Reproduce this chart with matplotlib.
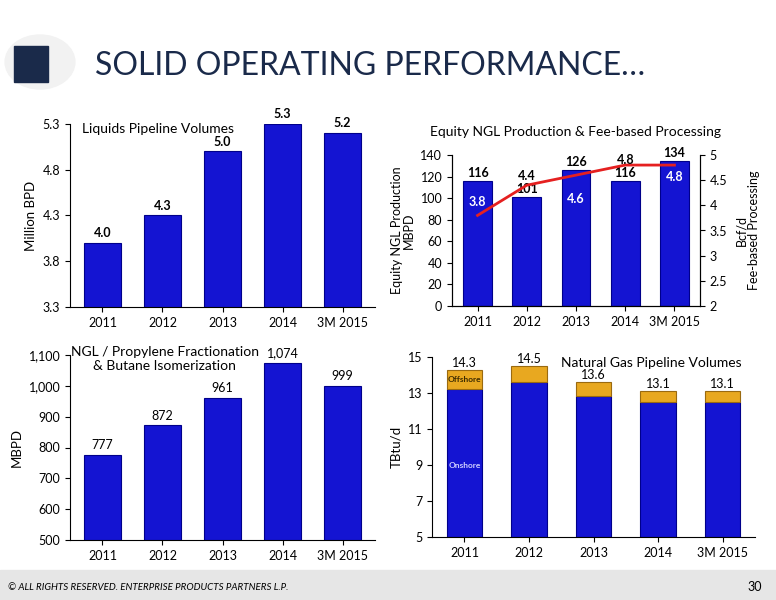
import matplotlib
matplotlib.use("Agg")
import matplotlib.pyplot as plt
from matplotlib.patches import Rectangle, Circle

plt.rcParams['font.family'] = ['Lato', 'DejaVu Sans']

years = ["2011", "2012", "2013", "2014", "3M 2015"]
liquids = [4.0, 4.3, 5.0, 5.3, 5.2]
ngl_prod = [116, 101, 126, 116, 134]
fee_proc = [3.8, 4.4, 4.6, 4.8, 4.8]
frac = [777, 872, 961, 1074, 999]
gas_total = [14.3, 14.5, 13.6, 13.1, 13.1]
gas_onshore = [13.2, 13.6, 12.85, 12.5, 12.5]
gas_offshore = [t - o for t, o in zip(gas_total, gas_onshore)]

BLUE = '#1414d2'
EDGE = '#00008a'
GOLD = '#e8a820'

fig = plt.figure(figsize=(7.76, 6), dpi=100)
W, H = 776, 600
def ax_at(x0, y0, x1, y1):
    return fig.add_axes([x0 / W, 1 - y1 / H, (x1 - x0) / W, (y1 - y0) / H])

# header
fig.patches.append(Circle((40 / W, 1 - 62 / H), 0.045, transform=fig.transFigure, color='#f2f2f2', zorder=0))
fig.patches.append(Rectangle((14 / W, 1 - 82 / H), 34 / W, 36 / H, transform=fig.transFigure, color='#1a2a4a'))
fig.text(95 / W, 1 - 66 / H, "SOLID OPERATING PERFORMANCE…", fontsize=23, color='#1a2a4a', va='center')
fig.patches.append(Rectangle((0, 0), 1, 30 / H, transform=fig.transFigure, color='#e6e6e6'))
fig.text(8 / W, 13 / H, "© ALL RIGHTS RESERVED. ENTERPRISE PRODUCTS PARTNERS L.P.", fontsize=7, style='italic', va='center')
fig.text(762 / W, 13 / H, "30", fontsize=9, ha='right', va='center')

FS = 9

def style(ax):
    ax.spines['top'].set_visible(False)
    ax.spines['right'].set_visible(False)
    ax.tick_params(labelsize=FS)

x = range(len(years))

# top-left
ax = ax_at(70, 124, 375, 307)
ax.bar(x, liquids, width=0.62, color=BLUE, edgecolor=EDGE, linewidth=0.8)
ax.set_ylim(3.3, 5.3)
ax.set_yticks([3.3, 3.8, 4.3, 4.8, 5.3])
ax.set_xticks(list(x), years)
ax.set_ylabel("Million BPD", fontsize=9.5)
for i, v in enumerate(liquids):
    ax.text(i, v + 0.04, f"{v:.1f}", ha='center', va='bottom', fontsize=FS, fontweight='bold', clip_on=False)
ax.text(0.04, 0.97, "Liquids Pipeline Volumes", transform=ax.transAxes, fontsize=10, va='center')
style(ax)

# top-right
ax = ax_at(452, 155, 700, 306)
ax.bar(x, ngl_prod, width=0.58, color=BLUE, edgecolor=EDGE, linewidth=0.8)
ax.set_ylim(0, 140)
ax.set_yticks(range(0, 141, 20))
ax.set_xticks(list(x), years)
ax.set_ylabel("Equity NGL Production\nMBPD", fontsize=9, linespacing=1.0)
ax.spines['top'].set_visible(False)
ax.tick_params(labelsize=FS)
for i, v in enumerate(ngl_prod):
    ax.text(i, v + 2, str(v), ha='center', va='bottom', fontsize=FS, fontweight='bold', zorder=5)
ax.set_title("Equity NGL Production & Fee-based Processing", fontsize=10, pad=14)
ax2 = ax.twinx()
ax2.plot(list(x), fee_proc, color='#e52020', linewidth=2)
ax2.set_ylim(2, 5)
ax2.set_yticks([2, 2.5, 3, 3.5, 4, 4.5, 5])
ax2.set_yticklabels(["2", "2.5", "3", "3.5", "4", "4.5", "5"])
ax2.tick_params(labelsize=FS)
ax2.spines['top'].set_visible(False)
ax2.set_ylabel("Bcf/d\nFee-based Processing", fontsize=9, linespacing=1.0, labelpad=6)
lab_pos = [4.07, 4.59, 4.13, 4.9, 4.57]
lab_col = ['white', 'black', 'white', 'black', 'white']
for i, v in enumerate(fee_proc):
    ax2.text(i, lab_pos[i], f"{v:.1f}", ha='center', va='center', fontsize=FS, fontweight='bold', color=lab_col[i])

# bottom-left
ax = ax_at(70, 355, 375, 540)
ax.bar(x, frac, width=0.62, color=BLUE, edgecolor=EDGE, linewidth=0.8)
ax.set_ylim(500, 1100)
ax.set_yticks(range(500, 1101, 100))
ax.set_yticklabels([f"{v:,}" for v in range(500, 1101, 100)])
ax.set_xticks(list(x), years)
ax.set_ylabel("MBPD", fontsize=9.5)
for i, v in enumerate(frac):
    ax.text(i, v + 12, f"{v:,}", ha='center', va='bottom', fontsize=FS, clip_on=False)
ax.text(0.31, 1.05, "NGL / Propylene Fractionation\n& Butane Isomerization", transform=ax.transAxes,
        fontsize=10, va='top', ha='center')
style(ax)

# bottom-right
ax = ax_at(432, 357, 755, 537)
ax.bar(x, [o - 5 for o in gas_onshore], bottom=5, width=0.55, color=BLUE, edgecolor=EDGE, linewidth=0.8)
ax.bar(x, gas_offshore, bottom=gas_onshore, width=0.55, color=GOLD, edgecolor='#9a6a10', linewidth=0.8)
ax.set_ylim(5, 15)
ax.set_yticks([5, 7, 9, 11, 13, 15])
ax.set_xticks(list(x), years)
ax.set_ylabel("TBtu/d", fontsize=9.5)
for i, v in enumerate(gas_total):
    ax.text(i, v + 0.05, f"{v:.1f}", ha='center', va='bottom', fontsize=FS)
ax.text(0, (gas_onshore[0] + gas_total[0]) / 2, "Offshore", ha='center', va='center', fontsize=6, fontweight='bold', color='#3a2a00')
ax.text(0, 9, "Onshore", ha='center', va='center', fontsize=6, fontweight='bold', color='#d0d0ff')
ax.text(0.96, 1.0, "Natural Gas Pipeline Volumes", transform=ax.transAxes, fontsize=10, va='top', ha='right')
style(ax)

fig.savefig("out.png", dpi=100)
